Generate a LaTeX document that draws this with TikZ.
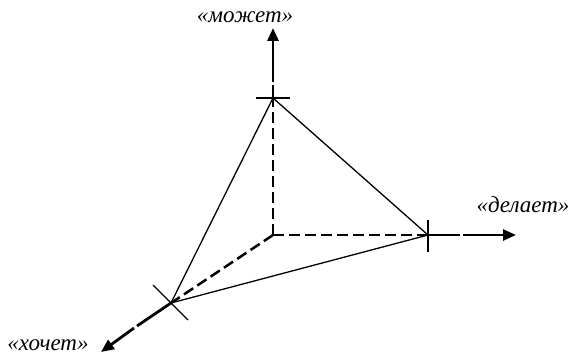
\documentclass[tikz,border=0pt]{standalone}
\usepackage{fontspec}
\setmainfont{Liberation Serif}
\usetikzlibrary{arrows.meta}
\begin{document}
\begin{tikzpicture}[x=1pt,y=-1pt,
  axis/.style={line width=2.8pt,-{Triangle[length=13pt,width=11pt]}},
  axisseg/.style={line width=2.8pt},
  inner/.style={line width=2.5pt,dash pattern=on 11pt off 5pt},
  edge/.style={line width=1.3pt},
  tick/.style={line width=1.3pt},
  lbl/.style={font=\itshape\fontsize{23}{26}\selectfont,inner sep=0pt}]
\useasboundingbox (0,0) rectangle (572,358);
\coordinate (O) at (273,235);
\coordinate (T) at (273,98);
\coordinate (R) at (428,235);
\coordinate (L) at (171,303);
% gaps
\coordinate (Tg1) at (273,85);
\coordinate (Tg2) at (273,82);
\coordinate (Ttip) at (273,28);
\coordinate (Rg1) at (460,235);
\coordinate (Rg2) at (463,235);
\coordinate (Rtip) at (516,235);
\coordinate (Lg1) at (137,326);
\coordinate (Lg2) at (134,328);
\coordinate (Ltip) at (101,352);
% inner dashed
\draw[inner] (O) -- (T);
\draw[inner] (O) -- (R);
\draw[inner] (O) -- (L);
% outer axes
\draw[axisseg] (T) -- (Tg1);
\draw[axis] (Tg2) -- (Ttip);
\draw[axisseg] (R) -- (Rg1);
\draw[axis] (Rg2) -- (Rtip);
\draw[axisseg] (L) -- (Lg1);
\draw[axis] (Lg2) -- (Ltip);
% triangle
\draw[edge] (T) -- (R) -- (L) -- cycle;
% ticks
\coordinate (t1a) at (256,98); \coordinate (t1b) at (290,98);
\draw[tick] (t1a) -- (t1b);
\coordinate (t2a) at (428,220); \coordinate (t2b) at (428,252);
\draw[tick] (t2a) -- (t2b);
\coordinate (t3a) at (153,285); \coordinate (t3b) at (188,320);
\draw[tick] (t3a) -- (t3b);
% labels
\node[lbl] (m) at (245,17) {«может»};
\node[lbl] (d) at (523,205) {«делает»};
\node[lbl] (h) at (48,345) {«хочет»};
\end{tikzpicture}
\end{document}
